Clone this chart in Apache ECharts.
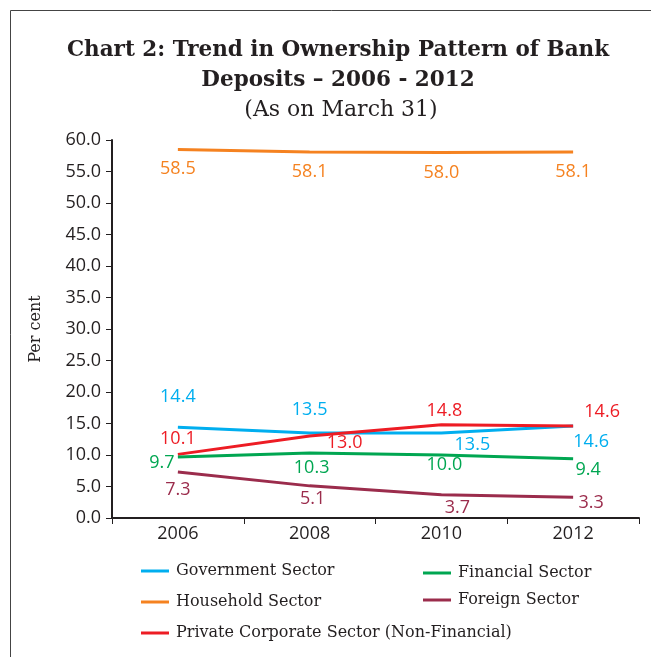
<!DOCTYPE html>
<html>
<head>
<meta charset="utf-8">
<script src="https://cdn.jsdelivr.net/npm/echarts@6/dist/echarts.min.js"></script>
<style>
  html, body { margin: 0; padding: 0; background: #ffffff; }
  #chart { width: 651px; height: 657px; }
</style>
</head>
<body>
<div id="chart"></div>
<script>
// Years on the category axis
const years = ['2006', '2008', '2010', '2012'];

// Share of bank deposits by sector (per cent)
const governmentSector = [14.4, 13.5, 13.5, 14.6];
const householdSector = [58.5, 58.1, 58.0, 58.1];
const privateCorporateSector = [10.1, 13.0, 14.8, 14.6];
const financialSector = [9.7, 10.3, 10.0, 9.4];
const foreignSector = [7.3, 5.1, 3.7, 3.3];

// Value axis ticks
const yTicks = { min: 0, max: 60, interval: 5 };

// Label placement (pixel offsets from each point) per series
const labelOffsets = {
  gov: [[0, -30], [0, -23], [31, 12], [18, 16]],
  house: [[0, 19], [0, 20], [0, 20], [0, 20]],
  priv: [[0, -15], [35, 7], [3, -14], [29, -14]],
  fin: [[-16, 6], [2, 15], [3, 10], [15, 11]],
  foreign: [[0, 18], [3, 13], [16, 13], [18, 6]]
};

const sansFont = '"Open Sans", "Noto Sans", sans-serif';
const serifFont = '"DejaVu Serif", "Liberation Serif", serif';
const textColor = '#231f20';

function makeSeries(name, values, color, offsets) {
  return {
    name: name,
    type: 'line',
    data: values.map((v, i) => ({
      value: v,
      label: { offset: offsets[i] }
    })),
    symbol: 'circle',
    symbolSize: 0.1,
    showSymbol: true,
    itemStyle: { color: color },
    lineStyle: { color: color, width: 3 },
    emphasis: { disabled: true },
    label: {
      show: true,
      position: 'inside',
      color: color,
      fontFamily: sansFont,
      fontSize: 18,
      formatter: p => p.value.toFixed(1)
    },
    z: 3
  };
}

const chart = echarts.init(document.getElementById('chart'), null, { renderer: 'canvas' });

const legendCommon = {
  orient: 'vertical',
  icon: 'rect',
  itemWidth: 28,
  itemHeight: 3,
  itemGap: 15,
  selectedMode: false,
  textStyle: { fontFamily: serifFont, fontSize: 16, color: textColor, padding: [0, 0, 0, 2] }
};

chart.setOption({
  animation: false,
  backgroundColor: '#ffffff',
  title: [
    {
      text: 'Chart 2: Trend in Ownership Pattern of Bank\nDeposits \u2013 2006 - 2012',
      left: 333,
      top: 30,
      textAlign: 'center',
      textStyle: {
        fontFamily: serifFont,
        fontWeight: 'bold',
        fontSize: 21.5,
        lineHeight: 30,
        color: textColor
      }
    },
    {
      text: '(As on March 31)',
      left: 336,
      top: 94,
      textAlign: 'center',
      textStyle: {
        fontFamily: serifFont,
        fontWeight: 'normal',
        fontSize: 22,
        color: textColor
      }
    }
  ],
  graphic: [
    {
      type: 'rect',
      shape: { x: 10.5, y: 10.5, width: 700, height: 700 },
      style: { fill: 'none', stroke: '#444444', lineWidth: 1 },
      silent: true
    }
  ],
  grid: { left: 112, right: 12, top: 140, bottom: 139 },
  xAxis: {
    type: 'category',
    data: years,
    boundaryGap: true,
    axisLine: { lineStyle: { color: textColor, width: 2 } },
    axisTick: { show: true, length: 6, lineStyle: { color: textColor, width: 1 } },
    axisLabel: { fontFamily: sansFont, fontSize: 18, color: textColor, margin: 7 },
    splitLine: { show: false }
  },
  yAxis: {
    type: 'value',
    min: yTicks.min,
    max: yTicks.max,
    interval: yTicks.interval,
    name: 'Per cent',
    nameLocation: 'middle',
    nameGap: 68,
    nameTextStyle: { fontFamily: serifFont, fontSize: 16, color: textColor },
    axisLine: { show: true, lineStyle: { color: textColor, width: 2 } },
    axisTick: { show: true, length: 6, lineStyle: { color: textColor, width: 1 } },
    axisLabel: {
      fontFamily: sansFont,
      fontSize: 18,
      color: textColor,
      margin: 11,
      formatter: v => v.toFixed(1)
    },
    splitLine: { show: false }
  },
  legend: [
    Object.assign({}, legendCommon, {
      data: ['Government Sector', 'Household Sector', 'Private Corporate Sector (Non-Financial)'],
      left: 136,
      top: 558
    }),
    Object.assign({}, legendCommon, {
      data: ['Financial Sector', 'Foreign Sector'],
      left: 418,
      top: 560,
      itemGap: 11
    })
  ],
  series: [
    makeSeries('Government Sector', governmentSector, '#00aeef', labelOffsets.gov),
    makeSeries('Household Sector', householdSector, '#f58220', labelOffsets.house),
    makeSeries('Private Corporate Sector (Non-Financial)', privateCorporateSector, '#ed1c24', labelOffsets.priv),
    makeSeries('Financial Sector', financialSector, '#00a651', labelOffsets.fin),
    makeSeries('Foreign Sector', foreignSector, '#9b2c4c', labelOffsets.foreign)
  ]
});
</script>
</body>
</html>
